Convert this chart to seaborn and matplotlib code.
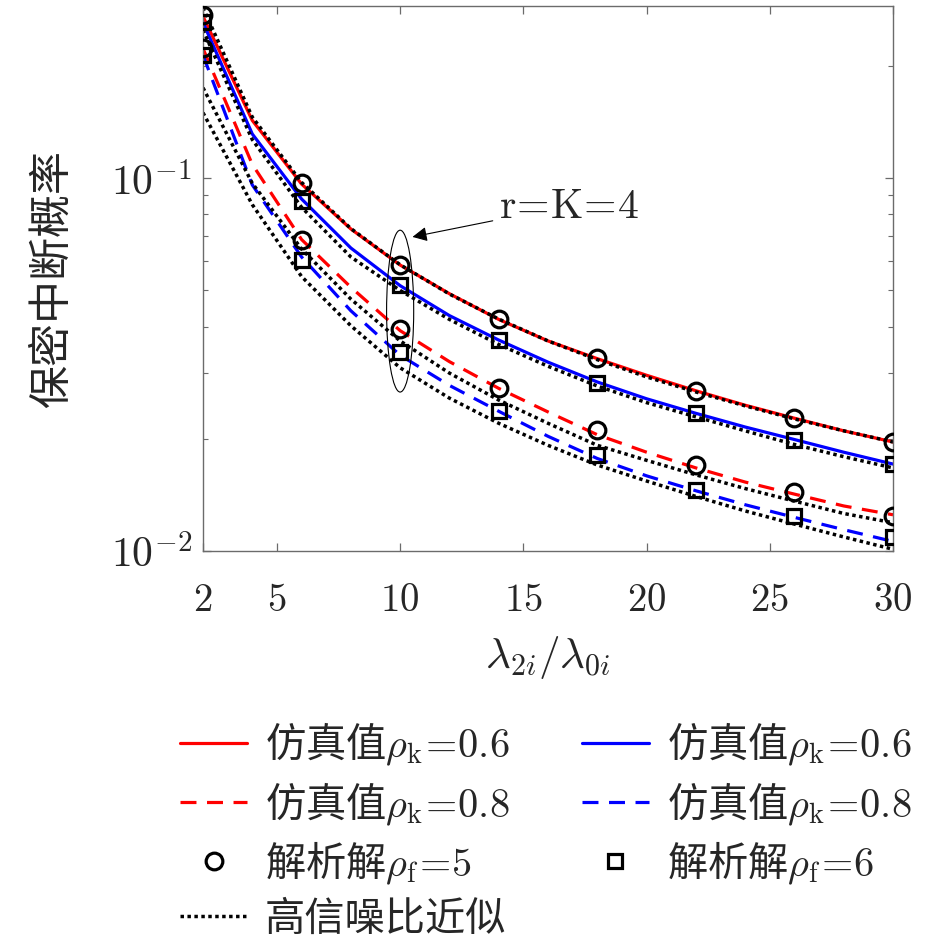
import numpy as np
import pandas as pd
import matplotlib
matplotlib.use("Agg")
import matplotlib.pyplot as plt
import seaborn as sns
from matplotlib.patches import Ellipse
from matplotlib.ticker import FixedLocator, FixedFormatter, LogLocator, NullFormatter

# simulated curves (step 2)
x_sim = [2, 4, 6, 8, 10, 12, 14, 16, 18, 20, 22, 24, 26, 28, 30]
sim_f5_k06 = [0.272, 0.143, 0.0965, 0.0731, 0.0585, 0.0490, 0.0418, 0.0366, 0.0328,
              0.0296, 0.0269, 0.0246, 0.0227, 0.0210, 0.0196]
sim_f6_k06 = [0.262, 0.1315, 0.0880, 0.0650, 0.0515, 0.0428, 0.0368, 0.0321, 0.0284,
              0.0256, 0.0234, 0.0215, 0.0199, 0.0184, 0.0171]
sim_f5_k08 = [0.223, 0.109, 0.0685, 0.0510, 0.0390, 0.0322, 0.0273, 0.0236, 0.0205,
              0.0184, 0.0167, 0.0153, 0.0142, 0.0132, 0.0125]
sim_f6_k08 = [0.214, 0.096, 0.0615, 0.0441, 0.0335, 0.0278, 0.0237, 0.0203, 0.0177,
              0.0159, 0.0145, 0.0133, 0.0123, 0.0114, 0.0106]

# high-SNR approximations
approx_1 = [0.287, 0.146, 0.0975, 0.0733, 0.0586, 0.0489, 0.0419, 0.0366, 0.0326,
            0.0293, 0.0267, 0.0245, 0.0226, 0.0210, 0.0196]
approx_2 = [0.250, 0.127, 0.0836, 0.0615, 0.0500, 0.0418, 0.0358, 0.0313, 0.0277,
            0.0250, 0.0229, 0.0210, 0.0193, 0.0179, 0.0167]
approx_3 = [0.175, 0.097, 0.0646, 0.0474, 0.0366, 0.0300, 0.0254, 0.0220, 0.0192,
            0.0175, 0.0160, 0.0147, 0.0136, 0.0126, 0.0119]
approx_4 = [0.150, 0.085, 0.0545, 0.0402, 0.0310, 0.0257, 0.0220, 0.0192, 0.0170,
            0.0154, 0.0140, 0.0128, 0.0118, 0.0109, 0.0101]

# analytic points (step 4)
x_ana = [2, 6, 10, 14, 18, 22, 26, 30]
ana_f5_k06 = [0.2746, 0.0970, 0.0586, 0.0419, 0.0329, 0.0269, 0.0227, 0.0196]
ana_f6_k06 = [0.262, 0.0867, 0.0518, 0.0369, 0.02825, 0.0234, 0.0199, 0.0171]
ana_f5_k08 = [0.2233, 0.0684, 0.0393, 0.0274, 0.0211, 0.0170, 0.0144, 0.0124]
ana_f6_k08 = [0.2141, 0.0602, 0.0341, 0.0237, 0.0181, 0.0146, 0.0124, 0.0109]

x_ticks = [2, 5, 10, 15, 20, 25, 30]
y_ticks = [0.01, 0.1]
y_tick_labels = [r"$10^{-2}$", r"$10^{-1}$"]

lab_red06 = r"仿真值$\rho_{\mathrm{k}}\!=\!0.6$"
lab_red08 = r"仿真值$\rho_{\mathrm{k}}\!=\!0.8$"
lab_blue06 = r"仿真值$\rho_{\mathrm{k}}\!=\!0.6$"
lab_blue08 = r"仿真值$\rho_{\mathrm{k}}\!=\!0.8$"
lab_circ = r"解析解$\rho_{\mathrm{f}}\!=\!5$"
lab_sq = r"解析解$\rho_{\mathrm{f}}\!=\!6$"
lab_dot = "高信噪比近似"

sns.set_style("ticks")
plt.rcParams["font.family"] = ["Noto Sans CJK SC", "DejaVu Sans"]
plt.rcParams["mathtext.fontset"] = "cm"

fig = plt.figure(figsize=(9.45, 9.45), dpi=100)
ax = fig.add_axes([0.2148, 0.416, 0.7302, 0.5766])

handles = {}

def line(x, y, key, **kw):
    sns.lineplot(x=x, y=y, ax=ax, errorbar=None, legend=False, **kw)
    handles[key] = ax.lines[-1]

dash = (0, (5.0, 3.3))
line(x_sim, sim_f5_k06, "r06", color="#ff0000", lw=2.3)
line(x_sim, sim_f6_k06, "b06", color="#0000ff", lw=2.3)
line(x_sim, sim_f5_k08, "r08", color="#ff0000", lw=2.3, linestyle=dash)
line(x_sim, sim_f6_k08, "b08", color="#0000ff", lw=2.3, linestyle=dash)

for i, yv in enumerate([approx_1, approx_2, approx_3, approx_4]):
    line(x_sim, yv, f"dot{i}", color="black", lw=2.5, linestyle=(0, (1.0, 1.0)))

mk = dict(color="black", linestyle="none", markerfacecolor="none",
          markeredgecolor="black", markeredgewidth=2.3)
line(x_ana, ana_f5_k06, "circ", marker="o", markersize=12, **mk)
line(x_ana, ana_f5_k08, "circ2", marker="o", markersize=12, **mk)
line(x_ana, ana_f6_k06, "sq", marker="s", markersize=9.5, **mk)
line(x_ana, ana_f6_k08, "sq2", marker="s", markersize=9.5, **mk)
for h in ["circ", "circ2", "sq", "sq2"]:
    handles[h].set_zorder(5)

ax.set_yscale("log")
ax.set_xlim(2, 30)
ax.set_ylim(0.01, 0.29)

ax.xaxis.set_major_locator(FixedLocator(x_ticks))
ax.xaxis.set_major_formatter(FixedFormatter([f"${t}$" for t in x_ticks]))
ax.yaxis.set_major_locator(FixedLocator(y_ticks))
ax.yaxis.set_major_formatter(FixedFormatter(y_tick_labels))
ax.yaxis.set_minor_locator(LogLocator(base=10, subs=np.arange(2, 10)))
ax.yaxis.set_minor_formatter(NullFormatter())

axis_grey = "#6b6b6b"
for s in ax.spines.values():
    s.set_color(axis_grey)
    s.set_linewidth(1.0)
ax.tick_params(which="both", direction="in", top=True, right=True, color=axis_grey)
ax.tick_params(which="major", length=6, width=0.9)
ax.tick_params(which="minor", length=3.5, width=0.8)
ax.tick_params(axis="x", which="major", labelsize=28, pad=20)
ax.tick_params(axis="y", which="major", labelsize=30, pad=8)

ax.set_xlabel(r"$\lambda_{2i}/\lambda_{0i}$", fontsize=31)
ax.xaxis.set_label_coords(0.5, -0.15)
ax.set_ylabel("保密中断概率", fontsize=31)
ax.yaxis.set_label_coords(-0.185, 0.5)

# ellipse around x=10 and annotation
ell = Ellipse((10, 0.44), width=1.1, height=0.297, transform=ax.get_xaxis_transform(),
              fill=False, edgecolor="black", lw=0.8, zorder=6)
ax.add_patch(ell)
ax.annotate(r"$\mathrm{r\!=\!K\!=\!4}$", xy=(10.5, 0.0696), xytext=(14.0, 0.0845),
            fontsize=30, ha="left", va="center",
            arrowprops=dict(arrowstyle="-|>", color="black", lw=0.8,
                            mutation_scale=22, shrinkA=2, shrinkB=0))

order = ["r06", "r08", "circ", "dot0", "b06", "b08", "sq"]
labels = [lab_red06, lab_red08, lab_circ, lab_dot, lab_blue06, lab_blue08, lab_sq]
fig.legend([handles[k] for k in order], labels, ncol=2, loc="upper left",
           bbox_to_anchor=(0.191, 0.237), frameon=False, fontsize=29,
           handlelength=1.65, handletextpad=0.45, columnspacing=1.8,
           labelspacing=0.3, borderaxespad=0, borderpad=0)

fig.savefig("out.png", dpi=100)
